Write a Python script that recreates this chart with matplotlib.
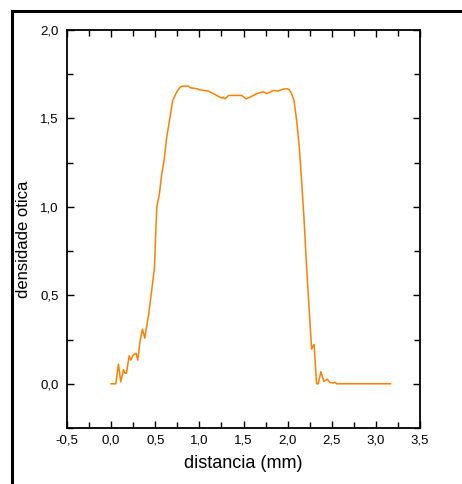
import matplotlib
matplotlib.use("Agg")
import matplotlib.pyplot as plt
from matplotlib.patches import Rectangle
from matplotlib.ticker import MultipleLocator, FuncFormatter

plt.rcParams['font.family'] = ['Liberation Sans', 'DejaVu Sans']

distancia = [0.0, 0.053, 0.083, 0.109, 0.14, 0.158, 0.174, 0.204, 0.223, 0.253, 0.283, 0.302,
             0.328, 0.355, 0.381, 0.426, 0.464, 0.491, 0.517, 0.547, 0.574, 0.6, 0.63, 0.668,
             0.698, 0.743, 0.781, 0.811, 0.875, 0.894, 0.97, 1.0, 1.1, 1.16, 1.215, 1.253, 1.27,
             1.29, 1.332, 1.479, 1.528, 1.574, 1.649, 1.725, 1.762, 1.838, 1.894, 1.951, 1.996,
             2.019, 2.045, 2.072, 2.102, 2.132, 2.158, 2.185, 2.215, 2.245, 2.272, 2.291, 2.3,
             2.328, 2.347, 2.377, 2.411, 2.449, 2.479, 2.517, 2.536, 2.555, 3.166]
densidade = [0.0, 0.0, 0.111, 0.011, 0.08, 0.06, 0.06, 0.158, 0.134, 0.164, 0.172, 0.134,
             0.243, 0.309, 0.258, 0.394, 0.545, 0.658, 0.998, 1.074, 1.187, 1.262, 1.394, 1.508,
             1.602, 1.649, 1.677, 1.683, 1.683, 1.674, 1.668, 1.662, 1.655, 1.64, 1.625, 1.615, 1.62,
             1.611, 1.63, 1.63, 1.611, 1.62, 1.64, 1.651, 1.64, 1.658, 1.655, 1.666, 1.668,
             1.662, 1.64, 1.602, 1.489, 1.338, 1.149, 0.942, 0.658, 0.413, 0.196, 0.215, 0.221,
             0.0, 0.0, 0.068, 0.013, 0.026, 0.008, 0.004, 0.009, 0.0, 0.0]

W, H = 462, 484
fig = plt.figure(figsize=(W / 100, H / 100), dpi=100)
ax = fig.add_axes([67 / W, 1 - 428 / H, (420 - 67) / W, (428 - 30) / H])

ax.plot(distancia, densidade, color='#ff8000', lw=1.1)

ax.set_xlim(-0.5, 3.5)
ax.set_ylim(-0.25, 2.0)
ax.xaxis.set_major_locator(MultipleLocator(0.5))
ax.xaxis.set_minor_locator(MultipleLocator(0.25))
ax.yaxis.set_major_locator(MultipleLocator(0.5))
ax.yaxis.set_minor_locator(MultipleLocator(0.25))
fmt = FuncFormatter(lambda v, p: f"{v:.1f}".replace('.', ','))
ax.xaxis.set_major_formatter(fmt)
ax.yaxis.set_major_formatter(fmt)
ax.tick_params(which='both', direction='in', top=True, right=True, width=1.0, labelsize=9.5)
ax.tick_params(axis='y', pad=6)
ax.tick_params(axis='x', pad=5)
ax.tick_params(which='major', length=5)
ax.tick_params(which='minor', length=4)
for s in ax.spines.values():
    s.set_linewidth(1.3)

ax.set_xlabel('distancia (mm)', fontsize=13, labelpad=6)
ax.set_ylabel('densidade otica', fontsize=12)
ax.yaxis.set_label_coords(-0.103, 0.475)

fig.patches.append(Rectangle((11.5 / W, -0.1), 1.2, 1 - 11 / H + 0.1, transform=fig.transFigure,
                             fill=False, edgecolor='black', lw=2.2, clip_on=False))

fig.savefig('out.png', dpi=100)
